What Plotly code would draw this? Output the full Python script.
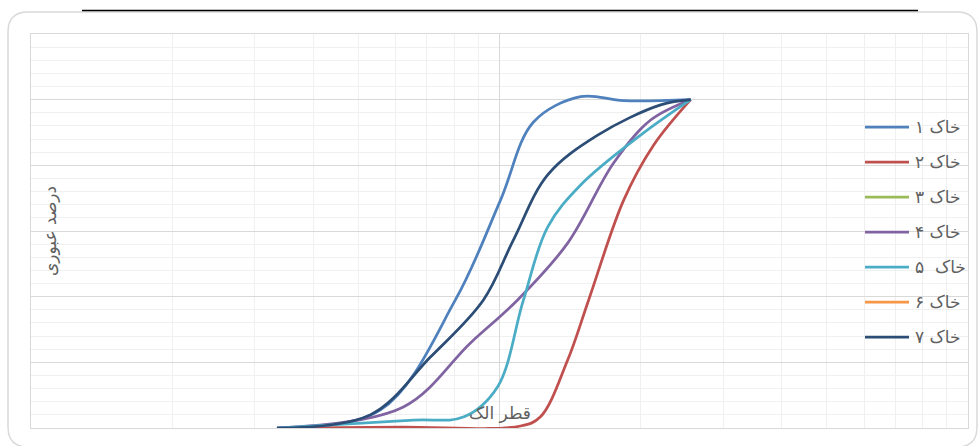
import plotly.graph_objects as go

# ---------------- data ----------------
names = ["خاک ۱", "خاک ۲", "خاک ۳", "خاک ۴", "خاک  ۵", "خاک ۶", "خاک ۷"]
colors = ["#4f81bd", "#c0504d", "#9bbb59", "#8064a2", "#4bacc6", "#f79646", "#2c4d75"]

s1_x = [0.335, 0.557, 0.805, 1.005, 1.182, 1.490, 1.841, 2.559]
s1_y = [0, 5.5, 39.0, 69.4, 93.2, 100.9, 99.7, 100]

s2_x = [0.335, 0.614, 1.109, 1.223, 1.398, 1.550, 1.841, 2.134, 2.559]
s2_y = [0, 0.3, 0.6, 3.4, 20.7, 39.0, 69.4, 86.2, 100]

s3_x = []
s3_y = []

s4_x = [0.335, 0.6235, 0.867, 1.093, 1.398, 1.752, 2.102, 2.559]
s4_y = [0, 6.4, 25.9, 39.0, 56.3, 80.7, 93.8, 100]

s5_x = [0.335, 0.655, 0.840, 0.990, 1.125, 1.267, 1.490, 2.001, 2.559]
s5_y = [0, 2.4, 3.4, 12.5, 39.0, 61.2, 74.0, 89.2, 100]

s6_x = []
s6_y = []

s7_x = [0.335, 0.530, 0.712, 0.924, 1.071, 1.267, 1.620, 2.208, 2.559]
s7_y = [0, 4.0, 21.6, 39.0, 57.3, 77.1, 89.2, 98.4, 100]

x_title = "قطر الک"
y_title = "درصد عبوری"

series_x = [s1_x, s2_x, s3_x, s4_x, s5_x, s6_x, s7_x]
series_y = [s1_y, s2_y, s3_y, s4_y, s5_y, s6_y, s7_y]

# ---------------- layout geometry ----------------
W, H = 978, 446
ML, MR, MT, MB = 31, 10, 34, 18
PW, PH = W - ML - MR, H - MT - MB


def px(xp):
    return (xp - ML) / PW


def py(yp):
    return (H - MB - yp) / PH


FONT = "DejaVu Sans"
TXT = "#606060"

fig = go.Figure()
for i in range(7):
    fig.add_trace(go.Scatter(
        x=series_x[i], y=series_y[i], name=names[i], mode="lines",
        line=dict(color=colors[i], width=2.75, shape="spline", smoothing=1.0),
        showlegend=False, hoverinfo="skip",
    ))

shapes = []
annotations = []

# manual legend
leg_y0, leg_dy = 127, 35
for i in range(7):
    yy = leg_y0 + i * leg_dy
    shapes.append(dict(type="line", xref="paper", yref="paper",
                       x0=px(865), x1=px(909), y0=py(yy), y1=py(yy),
                       line=dict(color=colors[i], width=2.75)))
    annotations.append(dict(xref="paper", yref="paper", x=px(913), y=py(yy),
                            xanchor="left", yanchor="middle", showarrow=False,
                            text=names[i], font=dict(family=FONT, size=17, color=TXT)))

# axis titles
annotations.append(dict(xref="paper", yref="paper", x=px(50), y=py(231),
                        xanchor="center", yanchor="middle", showarrow=False, textangle=-90,
                        text=y_title, font=dict(family=FONT, size=17, color=TXT)))
annotations.append(dict(xref="paper", yref="paper", x=px(500), y=py(413),
                        xanchor="center", yanchor="middle", showarrow=False,
                        text=x_title, font=dict(family=FONT, size=17, color=TXT)))

# top black line
shapes.append(dict(type="line", xref="paper", yref="paper",
                   x0=px(82), x1=px(918), y0=py(10.5), y1=py(10.5),
                   line=dict(color="#000000", width=1.5)))

# rounded outer frame
l, t, r, b, rad = 8, 12, 977, 447, 20
path = (f"M {px(l)},{py(t+rad)} Q {px(l)},{py(t)} {px(l+rad)},{py(t)} "
        f"L {px(r-rad)},{py(t)} Q {px(r)},{py(t)} {px(r)},{py(t+rad)} "
        f"L {px(r)},{py(b-rad)} Q {px(r)},{py(b)} {px(r-rad)},{py(b)} "
        f"L {px(l+rad)},{py(b)} Q {px(l)},{py(b)} {px(l)},{py(b-rad)} Z")
shapes.append(dict(type="path", xref="paper", yref="paper", path=path,
                   line=dict(color="#d9d9d9", width=1.5), layer="below"))

minor_x = [m * 10 ** e for e in (-1, 0) for m in range(2, 10)]
minor_y = [v for v in range(4, 120, 4) if v % 20 != 0]

fig.update_layout(
    width=W, height=H,
    margin=dict(l=ML, r=MR, t=MT, b=MB, pad=0),
    paper_bgcolor="white", plot_bgcolor="white",
    shapes=shapes, annotations=annotations,
    hovermode=False,
    xaxis=dict(type="log", range=[-1, 1], dtick=1, showticklabels=False, ticks="",
               showgrid=True, gridcolor="#d9d9d9", gridwidth=1,
               showline=True, mirror=True, linecolor="#d9d9d9", linewidth=1,
               zeroline=False,
               minor=dict(tickvals=minor_x, showgrid=True, gridcolor="#f0f0f0", gridwidth=1, ticks="")),
    yaxis=dict(range=[0, 120], dtick=20, showticklabels=False, ticks="",
               showgrid=True, gridcolor="#d9d9d9", gridwidth=1,
               showline=True, mirror=True, linecolor="#d9d9d9", linewidth=1,
               zeroline=False,
               minor=dict(tickvals=minor_y, showgrid=True, gridcolor="#f0f0f0", gridwidth=1, ticks="")),
)

fig.write_html("out.html", config={"displayModeBar": False, "staticPlot": True},
               post_script="document.body.style.margin='0';")
